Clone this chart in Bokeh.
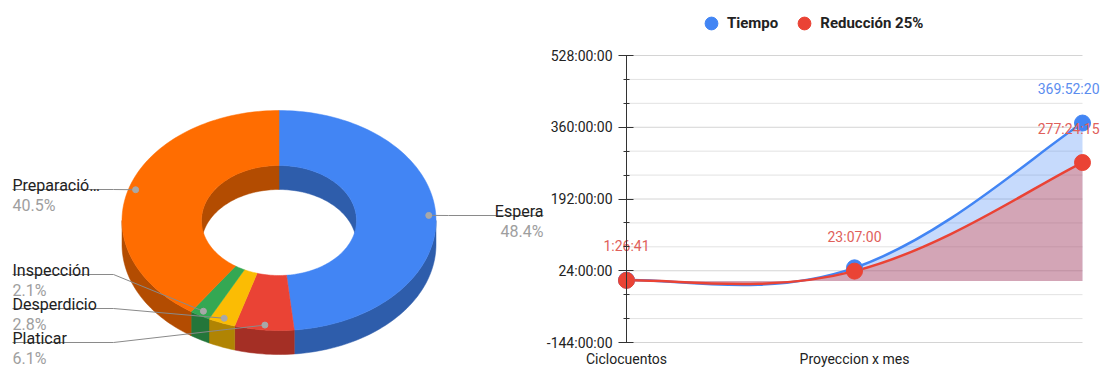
import numpy as np
from bokeh.plotting import figure
from bokeh.layouts import row
from bokeh.models import Range1d, FixedTicker, Legend, LegendItem
from bokeh.core.properties import value
from bokeh.embed import file_html
from bokeh.resources import INLINE

# ---------------- data ----------------
slice_names = ["Espera", "Platicar", "Desperdicio", "Inspección", "Preparació…"]
slice_pct = [48.4, 6.1, 2.8, 2.1, 40.5]
slice_colors = ["#4285F4", "#EA4335", "#FBBC04", "#34A853", "#FF6D01"]
slice_side_colors = ["#2E5DAB", "#A42F25", "#B08403", "#24763A", "#B34C01"]

categories = ["Ciclocuentos", "Proyeccion x mes", ""]
tiempo_hours = [1.926, 30.822, 369.872]
reduccion_hours = [1.445, 23.117, 277.404]
tiempo_labels = ["1:55:35", "30:49:20", "369:52:20"]
tiempo_label_shown = [False, False, True]
reduccion_labels = ["1:26:41", "23:07:00", "277:24:15"]
y_ticks = [-144, 24, 192, 360, 528]
y_tick_labels = ["-144:00:00", "24:00:00", "192:00:00", "360:00:00", "528:00:00"]
series_names = ["Tiempo", "Reducción 25%"]
series_colors = ["#4285F4", "#EA4335"]

FONT = value("Roboto")
H = 370

# ---------------- 3D donut ----------------
CX, CY = 278.5, 220.0
RX, RY = 157.0, 110.0
IRX, IRY = 77.5, 55.0
DEPTH = 24.0
W1 = 544

p1 = figure(width=W1, height=H, x_range=Range1d(0, W1), y_range=Range1d(H, 0),
            x_axis_type=None, y_axis_type=None, min_border=0,
            toolbar_location=None, output_backend="svg")
p1.grid.visible = False
p1.outline_line_color = None


def arc(a0, a1, rx, ry, dy):
    n = max(3, int(abs(a1 - a0) / 1.5) + 2)
    t = np.radians(np.linspace(a0, a1, n))
    return list(CX + rx * np.sin(t)), list(CY - ry * np.cos(t) + dy)


total = sum(slice_pct)
starts = np.cumsum([0] + slice_pct[:-1]) / total * 360.0
ends = np.cumsum(slice_pct) / total * 360.0

ow_x, ow_y, ow_c = [], [], []
iw_x, iw_y, iw_c = [], [], []
tf_x, tf_y, tf_c = [], [], []
for a, b, c, sc in zip(starts, ends, slice_colors, slice_side_colors):
    lo, hi = max(a, 90), min(b, 270)
    if hi > lo:
        x1, y1 = arc(lo, hi, RX, RY, 0)
        x2, y2 = arc(hi, lo, RX, RY, DEPTH)
        ow_x.append(x1 + x2); ow_y.append(y1 + y2); ow_c.append(sc)
    for blo, bhi in ((0, 90), (270, 360)):
        lo, hi = max(a, blo), min(b, bhi)
        if hi > lo:
            x1, y1 = arc(lo, hi, IRX, IRY, 0)
            x2, y2 = arc(hi, lo, IRX, IRY, DEPTH)
            iw_x.append(x1 + x2); iw_y.append(y1 + y2); iw_c.append(sc)
    x1, y1 = arc(a, b, RX, RY, 0)
    x2, y2 = arc(b, a, IRX, IRY, 0)
    tf_x.append(x1 + x2); tf_y.append(y1 + y2); tf_c.append(c)

p1.patches(ow_x, ow_y, fill_color=ow_c, line_color=ow_c, line_width=0.5)
p1.patches(iw_x, iw_y, fill_color=iw_c, line_color=iw_c, line_width=0.5)
p1.patches(tf_x, tf_y, fill_color=tf_c, line_color=tf_c, line_width=0.5)

mids = np.radians((starts + ends) / 2)
dot_x = CX + 0.955 * RX * np.sin(mids)
dot_y = CY - 0.955 * RY * np.cos(mids)

label_side = ["right", "left", "left", "left", "left"]
label_line_y = [215, 342, 308, 274, 189]
LEFT_X, LEFT_ELBOW, RIGHT_X, RIGHT_ELBOW = 12, 113, 543, 448

lx, ly = [], []
name_x, name_y, name_align = [], [], []
for i in range(len(slice_names)):
    yy = label_line_y[i]
    if label_side[i] == "left":
        lx.append([dot_x[i], LEFT_ELBOW, LEFT_X]); ly.append([dot_y[i], yy, yy])
        name_x.append(LEFT_X); name_align.append("left")
    else:
        lx.append([dot_x[i], RIGHT_ELBOW, RIGHT_X]); ly.append([dot_y[i], yy, yy])
        name_x.append(RIGHT_X); name_align.append("right")
    name_y.append(yy)

p1.multi_line(lx, ly, line_color="#8a8a8a", line_width=1)
p1.scatter(dot_x, dot_y, size=6, color="#a8a8a8")
p1.text(x=name_x, y=[v - 4.5 for v in name_y], text=slice_names, text_align=name_align,
        text_baseline="alphabetic", text_font=FONT, text_font_size="16px", text_color="#222222")
p1.text(x=name_x, y=[v + 15.5 for v in name_y], text=[f"{v}%" for v in slice_pct],
        text_align=name_align, text_baseline="alphabetic", text_font=FONT,
        text_font_size="16px", text_color="#9e9e9e")

# ---------------- line / area chart ----------------
W2 = 1101 - W1
AXIS_PX, END_PX = 626 - W1, 1082 - W1          # plot-area edges inside this figure
TOP_PX, BOTTOM_PX = 55, 28
n_cat = len(categories)
cat_per_px = (n_cat - 1) / (END_PX - AXIS_PX)
x_lo = -AXIS_PX * cat_per_px
x_hi = (n_cat - 1) + (W2 - END_PX) * cat_per_px
hours_per_px = (y_ticks[-1] - y_ticks[0]) / (H - TOP_PX - BOTTOM_PX)
y_lo = y_ticks[0] - BOTTOM_PX * hours_per_px
y_hi = y_ticks[-1] + TOP_PX * hours_per_px

p2 = figure(width=W2, height=H, x_range=Range1d(x_lo, x_hi), y_range=Range1d(y_lo, y_hi),
            x_axis_type=None, min_border=0,
            toolbar_location=None, output_backend="svg")
p2.outline_line_color = None
p2.xgrid.visible = False
p2.ygrid.visible = False

xs_cat = list(range(n_cat))
minor = [float(v) for v in np.arange(y_ticks[0], y_ticks[-1] + 1, 56) if v not in y_ticks]

p2.segment(x0=[0] * len(minor), x1=[n_cat - 1] * len(minor), y0=minor, y1=minor,
           line_color="#e2e2e2", line_width=1)
p2.segment(x0=[0] * len(y_ticks), x1=[n_cat - 1] * len(y_ticks), y0=y_ticks, y1=y_ticks,
           line_color="#d4d4d4", line_width=1)

yax = p2.yaxis[0]
yax.fixed_location = 0
yax.ticker = FixedTicker(ticks=y_ticks, minor_ticks=minor)
yax.bounds = (y_ticks[0], y_ticks[-1])
yax.major_label_overrides = dict(zip(y_ticks, y_tick_labels))
yax.major_tick_in = 7
yax.major_tick_out = 8
yax.minor_tick_in = 3
yax.minor_tick_out = 3
yax.axis_line_color = "#333333"
yax.major_tick_line_color = "#333333"
yax.minor_tick_line_color = "#333333"
yax.major_label_standoff = 6
yax.major_label_text_font = "Roboto"
yax.major_label_text_font_size = "14px"
yax.major_label_text_color = "#222222"

p2.text(x=xs_cat, y=[y_ticks[0]] * n_cat, text=categories, y_offset=16,
        text_align="center", text_baseline="middle", text_font=FONT,
        text_font_size="14px", text_color="#222222")

K = 0.2


def controls(vals):
    n = len(vals)
    xs = list(range(n))
    out = []
    for i in range(n - 1):
        if i == 0:
            tx0, ty0 = (xs[1] - xs[0]) * K, (vals[1] - vals[0]) * K
        else:
            tx0, ty0 = (xs[i + 1] - xs[i - 1]) * K, (vals[i + 1] - vals[i - 1]) * K
        if i + 1 == n - 1:
            tx1, ty1 = (xs[i + 1] - xs[i]) * K, (vals[i + 1] - vals[i]) * K
        else:
            tx1, ty1 = (xs[i + 2] - xs[i]) * K, (vals[i + 2] - vals[i]) * K
        out.append((xs[i], vals[i], xs[i + 1], vals[i + 1],
                    xs[i] + tx0, vals[i] + ty0, xs[i + 1] - tx1, vals[i + 1] - ty1))
    return out


def sample(segs):
    t = np.linspace(0, 1, 40)
    X, Y = [], []
    for (x0, y0, x1, y1, c0x, c0y, c1x, c1y) in segs:
        bx = (1 - t) ** 3 * x0 + 3 * (1 - t) ** 2 * t * c0x + 3 * (1 - t) * t ** 2 * c1x + t ** 3 * x1
        by = (1 - t) ** 3 * y0 + 3 * (1 - t) ** 2 * t * c0y + 3 * (1 - t) * t ** 2 * c1y + t ** 3 * y1
        X += list(bx); Y += list(by)
    return X, Y


series = [tiempo_hours, reduccion_hours]
fill_alphas = [0.3, 0.35]
segs_all = [controls(s) for s in series]
for segs, col, fa in zip(segs_all, series_colors, fill_alphas):
    X, Y = sample(segs)
    p2.varea(x=X, y1=[0] * len(X), y2=Y, fill_color=col, fill_alpha=fa)
for segs, col in zip(segs_all, series_colors):
    s = np.array(segs)
    p2.bezier(x0=s[:, 0], y0=s[:, 1], x1=s[:, 2], y1=s[:, 3], cx0=s[:, 4], cy0=s[:, 5],
              cx1=s[:, 6], cy1=s[:, 7], line_color=col, line_width=2.5)
pt_renderers = []
for vals, col in zip(series, series_colors):
    pt_renderers.append(p2.scatter(xs_cat, vals, size=16, color=col))

# data labels (the last one is kept inside the figure's right edge)
edge_gap = W2 - END_PX - 2
lbl_align = ["center"] * (n_cat - 1) + ["right"]
lbl_xoff = [0] * (n_cat - 1) + [edge_gap]
p2.text(x=xs_cat, y=reduccion_hours, text=reduccion_labels, y_offset=-34, x_offset=lbl_xoff,
        text_align=lbl_align, text_baseline="middle", text_font=FONT,
        text_font_size="14px", text_color="#E0605A")
shown = [i for i, s in enumerate(tiempo_label_shown) if s]
p2.text(x=[xs_cat[i] for i in shown], y=[tiempo_hours[i] for i in shown],
        text=[tiempo_labels[i] for i in shown], y_offset=-34,
        x_offset=[lbl_xoff[i] for i in shown], text_align=[lbl_align[i] for i in shown],
        text_baseline="middle", text_font=FONT, text_font_size="14px", text_color="#5B8DEF")

legend = Legend(items=[LegendItem(label=n, renderers=[r]) for n, r in zip(series_names, pt_renderers)],
                orientation="horizontal", location=(695 - W1, H - 39), padding=0, margin=0,
                spacing=10, label_standoff=0, glyph_width=32, glyph_height=32,
                label_text_font="Roboto", label_text_font_style="bold",
                label_text_font_size="15px", label_text_color="#222222",
                border_line_color=None, background_fill_alpha=0)
p2.add_layout(legend, "center")

layout = row(p1, p2)
open("out.html", "w").write(file_html(layout, INLINE))
